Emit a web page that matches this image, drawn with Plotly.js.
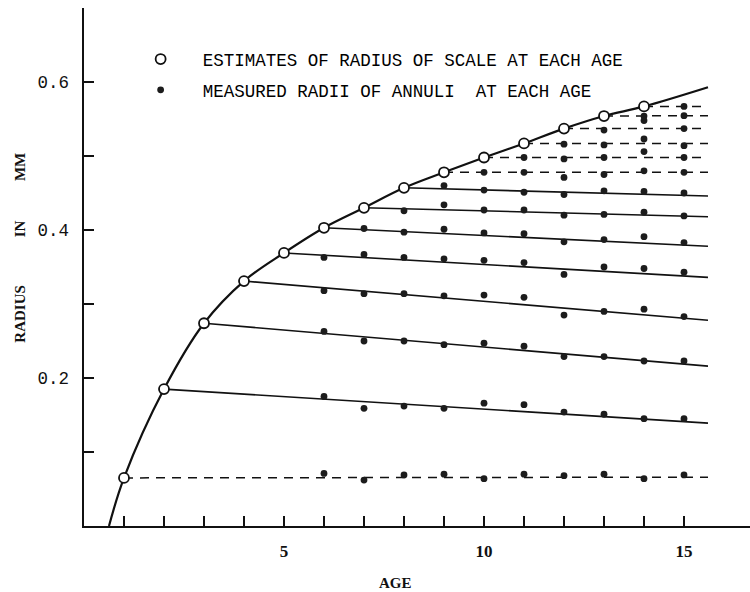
<!DOCTYPE html>
<html>
<head>
<meta charset="utf-8">
<script src="https://cdn.plot.ly/plotly-3.0.1.min.js"></script>
<style>
  html, body { margin: 0; padding: 0; background: #fff; }
  #chart { width: 750px; height: 592px; }
</style>
</head>
<body>
<div id="chart"></div>
<script>
// Age (years) at which each annulus is laid down on the scale
const ages = [1, 2, 3, 4, 5, 6, 7, 8, 9, 10, 11, 12, 13, 14];
// Estimated radius of the scale at each age (mm)
const estimatedRadius = [0.065, 0.185, 0.274, 0.331, 0.369, 0.403, 0.430, 0.457, 0.478, 0.498, 0.517, 0.537, 0.554, 0.567];

// Growth curve ends: where it leaves the age axis and where it is cut off
const curveStartAge = 0.625;
const curveStartRadius = 0;
const curveEndAge = 15.6;
const curveEndRadius = 0.593;

// Each annulus line runs from its estimate out to this age, ending at these radii
const lineEndAge = 15.6;
const lineEndRadius = [0.066, 0.139, 0.216, 0.278, 0.336, 0.378, 0.418, 0.446, 0.478, 0.498, 0.517, 0.537, 0.5545, 0.567];
// Annuli whose lines are drawn dashed
const dashedAnnuli = [1, 9, 10, 11, 12, 13, 14];

// Measured radius of each annulus in fish of successive ages, from the first age sampled
const firstSampledAge = [6, 6, 6, 6, 6, 7, 8, 9, 10, 11, 12, 13, 14, 15];
const annulus1 = [0.071, 0.062, 0.069, 0.070, 0.064, 0.070, 0.068, 0.070, 0.064, 0.069];
const annulus2 = [0.175, 0.159, 0.162, 0.159, 0.166, 0.164, 0.154, 0.151, 0.145, 0.145];
const annulus3 = [0.263, 0.250, 0.250, 0.245, 0.247, 0.243, 0.229, 0.229, 0.223, 0.223];
const annulus4 = [0.318, 0.314, 0.314, 0.311, 0.312, 0.309, 0.285, 0.290, 0.293, 0.283];
const annulus5 = [0.363, 0.367, 0.363, 0.361, 0.359, 0.356, 0.340, 0.350, 0.348, 0.343];
const annulus6 = [0.402, 0.397, 0.401, 0.396, 0.395, 0.384, 0.387, 0.391, 0.383];
const annulus7 = [0.426, 0.434, 0.427, 0.427, 0.420, 0.421, 0.424, 0.419];
const annulus8 = [0.460, 0.454, 0.451, 0.448, 0.453, 0.452, 0.450];
const annulus9 = [0.478, 0.478, 0.471, 0.475, 0.480, 0.478];
const annulus10 = [0.498, 0.496, 0.498, 0.506, 0.498];
const annulus11 = [0.516, 0.515, 0.523, 0.514];
const annulus12 = [0.535, 0.548, 0.537];
const annulus13 = [0.554, 0.5545];
const annulus14 = [0.567];
const measuredByAnnulus = [annulus1, annulus2, annulus3, annulus4, annulus5, annulus6, annulus7,
                           annulus8, annulus9, annulus10, annulus11, annulus12, annulus13, annulus14];

// Axis ticks: every year / every 0.1 mm, only some labelled
const xTickVals = [1, 2, 3, 4, 5, 6, 7, 8, 9, 10, 11, 12, 13, 14, 15];
const xTickText = ['', '', '', '', '5', '', '', '', '', '10', '', '', '', '', '15'];
const yTickVals = [0.1, 0.2, 0.3, 0.4, 0.5, 0.6];
const yTickText = ['', '0.2', '', '0.4', '', '0.6'];

const estimateLabel = 'ESTIMATES OF RADIUS OF SCALE AT EACH AGE';
const measuredLabel = 'MEASURED RADII OF ANNULI\u00a0 AT EACH AGE';
const xTitle = 'AGE';
const yTitleWords = ['RADIUS', 'IN', 'MM'];

const typewriter = '"Liberation Mono", "DejaVu Sans Mono", monospace';
const serif = '"Liberation Serif", "DejaVu Serif", serif';
const ink = '#111';

// Annulus lines, split into solid and dashed sets with gaps between segments
const solidX = [], solidY = [], dashX = [], dashY = [];
ages.forEach((a, i) => {
  const xs = dashedAnnuli.includes(a) ? dashX : solidX;
  const ys = dashedAnnuli.includes(a) ? dashY : solidY;
  xs.push(a, lineEndAge, null);
  ys.push(estimatedRadius[i], lineEndRadius[i], null);
});

// Growth curve through the estimates
const curveX = [curveStartAge].concat(ages, [curveEndAge]);
const curveY = [curveStartRadius].concat(estimatedRadius, [curveEndRadius]);

// Measured points, flattened
const measX = [], measY = [];
measuredByAnnulus.forEach((vals, i) => {
  vals.forEach((v, j) => {
    measX.push(firstSampledAge[i] + j);
    measY.push(v);
  });
});

const traces = [
  { x: solidX, y: solidY, mode: 'lines', line: { color: ink, width: 1.6 },
    showlegend: false, hoverinfo: 'skip', connectgaps: false },
  { x: dashX, y: dashY, mode: 'lines', line: { color: ink, width: 1.5, dash: '9px,7px' },
    showlegend: false, hoverinfo: 'skip', connectgaps: false },
  { x: curveX, y: curveY, mode: 'lines', line: { color: ink, width: 2.2, shape: 'spline', smoothing: 1 },
    showlegend: false, hoverinfo: 'skip' },
  { x: measX, y: measY, mode: 'markers', name: measuredLabel, legendgroup: 'measured', legendrank: 2,
    marker: { symbol: 'circle', size: 6.8, color: '#1c1c1c' } },
  { x: ages, y: estimatedRadius, mode: 'markers', name: estimateLabel, legendgroup: 'estimate', legendrank: 1,
    marker: { symbol: 'circle', size: 10, color: '#fff', line: { color: ink, width: 1.8 } } }
];

const axisCommon = {
  showline: true, linecolor: ink, linewidth: 2.4, mirror: false,
  ticks: 'inside', tickcolor: ink, tickwidth: 2, ticklen: 10,
  showgrid: false, zeroline: false, fixedrange: true
};

const layout = {
  width: 750, height: 592,
  margin: { l: 84, r: 0, t: 8, b: 66, pad: 0 },
  paper_bgcolor: '#fff', plot_bgcolor: '#fff',
  showlegend: true,
  legend: {
    x: 0.052, y: 0.936, xanchor: 'left', yanchor: 'top',
    bgcolor: 'rgba(0,0,0,0)', borderwidth: 0,
    font: { family: typewriter, size: 17.5, color: '#000' },
    itemwidth: 74, tracegroupgap: 5, traceorder: 'grouped'
  },
  xaxis: Object.assign({}, axisCommon, {
    range: [0, 16.65], tickmode: 'array', tickvals: xTickVals, ticktext: xTickText,
    tickfont: { family: serif, size: 17, color: ink, weight: 'bold' }, ticklabelstandoff: 8
  }),
  yaxis: Object.assign({}, axisCommon, {
    range: [0, 0.7], tickmode: 'array', tickvals: yTickVals, ticktext: yTickText,
    tickfont: { family: typewriter, size: 17.5, color: ink }, ticklabelstandoff: 9
  }),
  annotations: [
    { text: xTitle, xref: 'paper', yref: 'paper', x: 0.467, y: -0.110, showarrow: false,
      xanchor: 'center', yanchor: 'middle', font: { family: serif, size: 15, color: ink, weight: 'bold' } },
    { text: yTitleWords[0], xref: 'paper', yref: 'paper', x: -0.096, y: 0.410, textangle: -90, showarrow: false,
      xanchor: 'center', yanchor: 'middle', font: { family: serif, size: 15, color: ink, weight: 'bold' } },
    { text: yTitleWords[1], xref: 'paper', yref: 'paper', x: -0.096, y: 0.573, textangle: -90, showarrow: false,
      xanchor: 'center', yanchor: 'middle', font: { family: serif, size: 15, color: ink, weight: 'bold' } },
    { text: yTitleWords[2], xref: 'paper', yref: 'paper', x: -0.096, y: 0.693, textangle: -90, showarrow: false,
      xanchor: 'center', yanchor: 'middle', font: { family: serif, size: 15, color: ink, weight: 'bold' } }
  ]
};

Plotly.newPlot('chart', traces, layout, { staticPlot: true, displayModeBar: false });
</script>
</body>
</html>
